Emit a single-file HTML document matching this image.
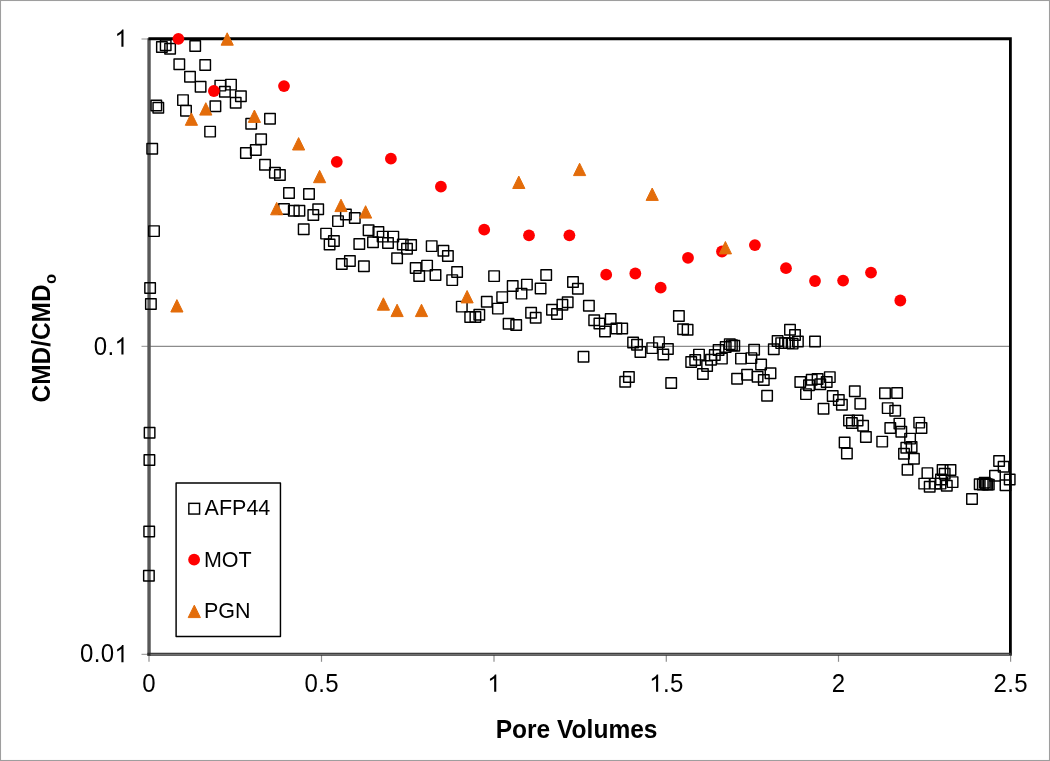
<!DOCTYPE html>
<html><head><meta charset="utf-8"><title>chart</title>
<style>
html,body{margin:0;padding:0;background:#fff;}
body{width:1050px;height:761px;overflow:hidden;}
svg{display:block;}
text{font-family:"Liberation Sans",sans-serif;fill:#000;}
svg{will-change:transform;}
</style></head><body>
<svg width="1050" height="761" viewBox="0 0 1050 761">
<rect x="0" y="0" width="1050" height="761" fill="#fff"/>
<rect x="0.5" y="0.5" width="1049" height="760" fill="none" stroke="#9e9e9e" stroke-width="1.1"/>

<line x1="149" y1="346.3" x2="1010" y2="346.3" stroke="#8c8c8c" stroke-width="1.2"/>
<line x1="141.5" y1="39" x2="148" y2="39" stroke="#8f8f8f" stroke-width="1"/>
<line x1="141.5" y1="346.3" x2="148" y2="346.3" stroke="#8f8f8f" stroke-width="1"/>
<line x1="141.5" y1="654.3" x2="148" y2="654.3" stroke="#8f8f8f" stroke-width="1"/>
<line x1="149" y1="655" x2="149" y2="661.8" stroke="#8f8f8f" stroke-width="1.2"/>
<line x1="321.5" y1="655" x2="321.5" y2="661.8" stroke="#8f8f8f" stroke-width="1.2"/>
<line x1="494" y1="655" x2="494" y2="661.8" stroke="#8f8f8f" stroke-width="1.2"/>
<line x1="666.3" y1="655" x2="666.3" y2="661.8" stroke="#8f8f8f" stroke-width="1.2"/>
<line x1="838.5" y1="655" x2="838.5" y2="661.8" stroke="#8f8f8f" stroke-width="1.2"/>
<line x1="1010.6" y1="655" x2="1010.6" y2="661.8" stroke="#8f8f8f" stroke-width="1.2"/>
<line x1="149.05" y1="38.2" x2="149.05" y2="655.7" stroke="#585858" stroke-width="3.4"/>
<path d="M148.4 38.75H1010.4V654.2" fill="none" stroke="#000" stroke-width="2.8"/>
<line x1="147.4" y1="654.35" x2="1011.9" y2="654.35" stroke="#2e2e2e" stroke-width="3"/>
<line x1="150.5" y1="654.3" x2="1009" y2="654.3" stroke="#858585" stroke-width="0.95"/>
<g fill="none" stroke="#000" stroke-width="1.45" stroke-linejoin="round">
<rect x="156.65" y="41.75" width="10.5" height="10.5"/>
<rect x="160.45" y="40.05" width="10.5" height="10.5"/>
<rect x="164.85" y="43.45" width="10.5" height="10.5"/>
<rect x="189.95" y="40.75" width="10.5" height="10.5"/>
<rect x="174.05" y="59.05" width="10.5" height="10.5"/>
<rect x="199.95" y="59.75" width="10.5" height="10.5"/>
<rect x="184.75" y="71.55" width="10.5" height="10.5"/>
<rect x="195.35" y="81.55" width="10.5" height="10.5"/>
<rect x="215.05" y="80.35" width="10.5" height="10.5"/>
<rect x="225.75" y="79.35" width="10.5" height="10.5"/>
<rect x="219.65" y="86.45" width="10.5" height="10.5"/>
<rect x="235.65" y="91.05" width="10.5" height="10.5"/>
<rect x="230.45" y="97.55" width="10.5" height="10.5"/>
<rect x="177.75" y="94.85" width="10.5" height="10.5"/>
<rect x="180.75" y="105.55" width="10.5" height="10.5"/>
<rect x="210.15" y="100.95" width="10.5" height="10.5"/>
<rect x="151.05" y="100.15" width="10.5" height="10.5"/>
<rect x="153.05" y="102.45" width="10.5" height="10.5"/>
<rect x="204.85" y="126.35" width="10.5" height="10.5"/>
<rect x="245.95" y="118.45" width="10.5" height="10.5"/>
<rect x="264.75" y="113.45" width="10.5" height="10.5"/>
<rect x="255.85" y="133.95" width="10.5" height="10.5"/>
<rect x="146.95" y="143.45" width="10.5" height="10.5"/>
<rect x="250.55" y="144.65" width="10.5" height="10.5"/>
<rect x="240.65" y="147.75" width="10.5" height="10.5"/>
<rect x="259.75" y="159.55" width="10.5" height="10.5"/>
<rect x="269.65" y="167.55" width="10.5" height="10.5"/>
<rect x="274.65" y="169.75" width="10.5" height="10.5"/>
<rect x="283.75" y="187.75" width="10.5" height="10.5"/>
<rect x="278.75" y="203.75" width="10.5" height="10.5"/>
<rect x="288.55" y="205.55" width="10.5" height="10.5"/>
<rect x="294.15" y="205.55" width="10.5" height="10.5"/>
<rect x="148.75" y="225.85" width="10.5" height="10.5"/>
<rect x="303.75" y="188.75" width="10.5" height="10.5"/>
<rect x="312.95" y="203.95" width="10.5" height="10.5"/>
<rect x="308.05" y="209.75" width="10.5" height="10.5"/>
<rect x="298.45" y="224.05" width="10.5" height="10.5"/>
<rect x="320.85" y="228.35" width="10.5" height="10.5"/>
<rect x="328.65" y="235.65" width="10.5" height="10.5"/>
<rect x="324.35" y="239.25" width="10.5" height="10.5"/>
<rect x="332.75" y="215.85" width="10.5" height="10.5"/>
<rect x="340.65" y="209.25" width="10.5" height="10.5"/>
<rect x="349.55" y="212.75" width="10.5" height="10.5"/>
<rect x="354.05" y="238.65" width="10.5" height="10.5"/>
<rect x="363.35" y="224.95" width="10.5" height="10.5"/>
<rect x="367.75" y="237.05" width="10.5" height="10.5"/>
<rect x="373.15" y="226.75" width="10.5" height="10.5"/>
<rect x="377.35" y="231.35" width="10.5" height="10.5"/>
<rect x="382.75" y="237.75" width="10.5" height="10.5"/>
<rect x="388.05" y="231.35" width="10.5" height="10.5"/>
<rect x="397.55" y="239.25" width="10.5" height="10.5"/>
<rect x="401.75" y="243.55" width="10.5" height="10.5"/>
<rect x="405.85" y="239.75" width="10.5" height="10.5"/>
<rect x="391.85" y="253.05" width="10.5" height="10.5"/>
<rect x="426.45" y="240.85" width="10.5" height="10.5"/>
<rect x="438.15" y="245.45" width="10.5" height="10.5"/>
<rect x="442.65" y="250.75" width="10.5" height="10.5"/>
<rect x="336.55" y="258.75" width="10.5" height="10.5"/>
<rect x="344.65" y="255.75" width="10.5" height="10.5"/>
<rect x="358.65" y="261.05" width="10.5" height="10.5"/>
<rect x="410.45" y="262.65" width="10.5" height="10.5"/>
<rect x="421.85" y="260.35" width="10.5" height="10.5"/>
<rect x="413.95" y="270.65" width="10.5" height="10.5"/>
<rect x="430.25" y="269.75" width="10.5" height="10.5"/>
<rect x="144.85" y="282.75" width="10.5" height="10.5"/>
<rect x="145.65" y="298.75" width="10.5" height="10.5"/>
<rect x="144.35" y="427.55" width="10.5" height="10.5"/>
<rect x="144.15" y="454.75" width="10.5" height="10.5"/>
<rect x="143.95" y="526.15" width="10.5" height="10.5"/>
<rect x="143.65" y="570.45" width="10.5" height="10.5"/>
<rect x="451.85" y="266.75" width="10.5" height="10.5"/>
<rect x="446.95" y="274.85" width="10.5" height="10.5"/>
<rect x="488.85" y="270.85" width="10.5" height="10.5"/>
<rect x="456.55" y="301.35" width="10.5" height="10.5"/>
<rect x="464.95" y="311.75" width="10.5" height="10.5"/>
<rect x="470.15" y="311.75" width="10.5" height="10.5"/>
<rect x="474.05" y="309.45" width="10.5" height="10.5"/>
<rect x="481.55" y="296.45" width="10.5" height="10.5"/>
<rect x="492.65" y="303.35" width="10.5" height="10.5"/>
<rect x="496.95" y="291.85" width="10.5" height="10.5"/>
<rect x="507.45" y="280.75" width="10.5" height="10.5"/>
<rect x="516.25" y="288.35" width="10.5" height="10.5"/>
<rect x="521.65" y="279.35" width="10.5" height="10.5"/>
<rect x="503.35" y="318.55" width="10.5" height="10.5"/>
<rect x="510.95" y="319.75" width="10.5" height="10.5"/>
<rect x="525.85" y="307.55" width="10.5" height="10.5"/>
<rect x="530.45" y="312.45" width="10.5" height="10.5"/>
<rect x="535.35" y="283.25" width="10.5" height="10.5"/>
<rect x="540.95" y="269.75" width="10.5" height="10.5"/>
<rect x="546.75" y="304.55" width="10.5" height="10.5"/>
<rect x="551.75" y="308.65" width="10.5" height="10.5"/>
<rect x="557.15" y="299.55" width="10.5" height="10.5"/>
<rect x="562.45" y="296.95" width="10.5" height="10.5"/>
<rect x="567.75" y="276.65" width="10.5" height="10.5"/>
<rect x="572.65" y="283.55" width="10.5" height="10.5"/>
<rect x="583.65" y="300.55" width="10.5" height="10.5"/>
<rect x="588.95" y="314.95" width="10.5" height="10.5"/>
<rect x="594.15" y="318.25" width="10.5" height="10.5"/>
<rect x="578.25" y="351.55" width="10.5" height="10.5"/>
<rect x="605.45" y="313.65" width="10.5" height="10.5"/>
<rect x="599.75" y="326.15" width="10.5" height="10.5"/>
<rect x="611.15" y="323.15" width="10.5" height="10.5"/>
<rect x="616.95" y="323.15" width="10.5" height="10.5"/>
<rect x="627.85" y="337.15" width="10.5" height="10.5"/>
<rect x="631.75" y="339.45" width="10.5" height="10.5"/>
<rect x="635.15" y="346.65" width="10.5" height="10.5"/>
<rect x="646.95" y="342.85" width="10.5" height="10.5"/>
<rect x="653.75" y="336.85" width="10.5" height="10.5"/>
<rect x="662.65" y="343.75" width="10.5" height="10.5"/>
<rect x="658.05" y="349.25" width="10.5" height="10.5"/>
<rect x="673.65" y="310.65" width="10.5" height="10.5"/>
<rect x="677.85" y="324.05" width="10.5" height="10.5"/>
<rect x="682.35" y="324.55" width="10.5" height="10.5"/>
<rect x="623.65" y="371.65" width="10.5" height="10.5"/>
<rect x="619.95" y="376.55" width="10.5" height="10.5"/>
<rect x="665.95" y="377.75" width="10.5" height="10.5"/>
<rect x="685.95" y="356.65" width="10.5" height="10.5"/>
<rect x="689.95" y="354.75" width="10.5" height="10.5"/>
<rect x="693.75" y="349.35" width="10.5" height="10.5"/>
<rect x="701.85" y="360.75" width="10.5" height="10.5"/>
<rect x="697.65" y="368.75" width="10.5" height="10.5"/>
<rect x="705.75" y="354.45" width="10.5" height="10.5"/>
<rect x="709.55" y="349.75" width="10.5" height="10.5"/>
<rect x="713.35" y="344.75" width="10.5" height="10.5"/>
<rect x="716.65" y="353.35" width="10.5" height="10.5"/>
<rect x="720.45" y="341.75" width="10.5" height="10.5"/>
<rect x="724.55" y="338.85" width="10.5" height="10.5"/>
<rect x="726.65" y="339.95" width="10.5" height="10.5"/>
<rect x="729.05" y="340.45" width="10.5" height="10.5"/>
<rect x="735.75" y="353.35" width="10.5" height="10.5"/>
<rect x="746.15" y="352.85" width="10.5" height="10.5"/>
<rect x="748.85" y="344.55" width="10.5" height="10.5"/>
<rect x="755.85" y="359.25" width="10.5" height="10.5"/>
<rect x="741.85" y="369.55" width="10.5" height="10.5"/>
<rect x="731.85" y="373.55" width="10.5" height="10.5"/>
<rect x="752.35" y="371.45" width="10.5" height="10.5"/>
<rect x="758.55" y="374.75" width="10.5" height="10.5"/>
<rect x="765.25" y="368.05" width="10.5" height="10.5"/>
<rect x="761.85" y="390.45" width="10.5" height="10.5"/>
<rect x="768.55" y="344.05" width="10.5" height="10.5"/>
<rect x="784.75" y="324.55" width="10.5" height="10.5"/>
<rect x="789.75" y="329.75" width="10.5" height="10.5"/>
<rect x="772.35" y="335.65" width="10.5" height="10.5"/>
<rect x="775.95" y="337.85" width="10.5" height="10.5"/>
<rect x="779.75" y="337.85" width="10.5" height="10.5"/>
<rect x="783.55" y="337.85" width="10.5" height="10.5"/>
<rect x="787.35" y="338.35" width="10.5" height="10.5"/>
<rect x="792.65" y="336.25" width="10.5" height="10.5"/>
<rect x="809.75" y="336.25" width="10.5" height="10.5"/>
<rect x="795.05" y="376.65" width="10.5" height="10.5"/>
<rect x="803.75" y="379.95" width="10.5" height="10.5"/>
<rect x="806.45" y="374.55" width="10.5" height="10.5"/>
<rect x="812.35" y="373.75" width="10.5" height="10.5"/>
<rect x="815.05" y="379.05" width="10.5" height="10.5"/>
<rect x="821.45" y="376.65" width="10.5" height="10.5"/>
<rect x="824.55" y="371.85" width="10.5" height="10.5"/>
<rect x="800.75" y="388.85" width="10.5" height="10.5"/>
<rect x="827.45" y="390.75" width="10.5" height="10.5"/>
<rect x="833.55" y="394.75" width="10.5" height="10.5"/>
<rect x="836.65" y="399.55" width="10.5" height="10.5"/>
<rect x="818.25" y="403.55" width="10.5" height="10.5"/>
<rect x="849.55" y="385.95" width="10.5" height="10.5"/>
<rect x="855.05" y="398.55" width="10.5" height="10.5"/>
<rect x="843.75" y="415.25" width="10.5" height="10.5"/>
<rect x="846.65" y="417.65" width="10.5" height="10.5"/>
<rect x="852.35" y="415.25" width="10.5" height="10.5"/>
<rect x="857.85" y="420.45" width="10.5" height="10.5"/>
<rect x="860.65" y="431.75" width="10.5" height="10.5"/>
<rect x="839.35" y="437.15" width="10.5" height="10.5"/>
<rect x="841.65" y="448.25" width="10.5" height="10.5"/>
<rect x="879.75" y="387.95" width="10.5" height="10.5"/>
<rect x="891.85" y="387.65" width="10.5" height="10.5"/>
<rect x="882.45" y="402.85" width="10.5" height="10.5"/>
<rect x="889.95" y="405.55" width="10.5" height="10.5"/>
<rect x="885.05" y="422.65" width="10.5" height="10.5"/>
<rect x="894.15" y="418.35" width="10.5" height="10.5"/>
<rect x="896.05" y="426.45" width="10.5" height="10.5"/>
<rect x="876.95" y="436.35" width="10.5" height="10.5"/>
<rect x="913.95" y="417.35" width="10.5" height="10.5"/>
<rect x="916.25" y="422.65" width="10.5" height="10.5"/>
<rect x="904.85" y="433.35" width="10.5" height="10.5"/>
<rect x="901.05" y="442.45" width="10.5" height="10.5"/>
<rect x="906.35" y="441.75" width="10.5" height="10.5"/>
<rect x="898.75" y="448.55" width="10.5" height="10.5"/>
<rect x="908.65" y="453.45" width="10.5" height="10.5"/>
<rect x="902.25" y="464.55" width="10.5" height="10.5"/>
<rect x="922.15" y="467.85" width="10.5" height="10.5"/>
<rect x="937.35" y="464.75" width="10.5" height="10.5"/>
<rect x="945.25" y="464.75" width="10.5" height="10.5"/>
<rect x="939.45" y="468.45" width="10.5" height="10.5"/>
<rect x="918.95" y="478.35" width="10.5" height="10.5"/>
<rect x="924.45" y="481.55" width="10.5" height="10.5"/>
<rect x="929.95" y="478.35" width="10.5" height="10.5"/>
<rect x="935.75" y="474.15" width="10.5" height="10.5"/>
<rect x="935.25" y="478.35" width="10.5" height="10.5"/>
<rect x="941.55" y="480.55" width="10.5" height="10.5"/>
<rect x="947.35" y="476.85" width="10.5" height="10.5"/>
<rect x="966.75" y="493.65" width="10.5" height="10.5"/>
<rect x="974.45" y="478.95" width="10.5" height="10.5"/>
<rect x="977.55" y="479.15" width="10.5" height="10.5"/>
<rect x="979.45" y="477.35" width="10.5" height="10.5"/>
<rect x="980.65" y="478.75" width="10.5" height="10.5"/>
<rect x="982.05" y="479.25" width="10.5" height="10.5"/>
<rect x="983.55" y="479.35" width="10.5" height="10.5"/>
<rect x="989.75" y="470.55" width="10.5" height="10.5"/>
<rect x="993.85" y="455.75" width="10.5" height="10.5"/>
<rect x="998.35" y="461.55" width="10.5" height="10.5"/>
<rect x="1000.25" y="479.95" width="10.5" height="10.5"/>
<rect x="1004.45" y="474.15" width="10.5" height="10.5"/>
</g>
<g fill="#ff0000">
<circle cx="178.4" cy="38.8" r="5.9"/>
<circle cx="213.9" cy="91" r="5.9"/>
<circle cx="284" cy="86.1" r="5.9"/>
<circle cx="336.8" cy="161.8" r="5.9"/>
<circle cx="390.9" cy="158.7" r="5.9"/>
<circle cx="440.9" cy="186.7" r="5.9"/>
<circle cx="484.2" cy="229.7" r="5.9"/>
<circle cx="529" cy="235.3" r="5.9"/>
<circle cx="569.4" cy="235.3" r="5.9"/>
<circle cx="606.2" cy="274.7" r="5.9"/>
<circle cx="635.3" cy="273.5" r="5.9"/>
<circle cx="660.7" cy="287.7" r="5.9"/>
<circle cx="688" cy="257.9" r="5.9"/>
<circle cx="722" cy="251.5" r="5.9"/>
<circle cx="754.9" cy="245.1" r="5.9"/>
<circle cx="786" cy="268.2" r="5.9"/>
<circle cx="815" cy="281" r="5.9"/>
<circle cx="843.1" cy="280.6" r="5.9"/>
<circle cx="871" cy="272.6" r="5.9"/>
<circle cx="900.3" cy="300.5" r="5.9"/>
</g>
<g fill="#e36c0a" stroke="#e36c0a" stroke-width="1" stroke-linejoin="round">
<path d="M227.20 32.80L233.30 45.20L221.10 45.20Z"/>
<path d="M205.80 102.70L211.90 115.10L199.70 115.10Z"/>
<path d="M191.40 112.90L197.50 125.30L185.30 125.30Z"/>
<path d="M254.40 110.00L260.50 122.40L248.30 122.40Z"/>
<path d="M298.60 137.60L304.70 150.00L292.50 150.00Z"/>
<path d="M319.60 170.30L325.70 182.70L313.50 182.70Z"/>
<path d="M276.70 202.40L282.80 214.80L270.60 214.80Z"/>
<path d="M341.00 199.20L347.10 211.60L334.90 211.60Z"/>
<path d="M365.60 205.70L371.70 218.10L359.50 218.10Z"/>
<path d="M176.90 299.60L183.00 312.00L170.80 312.00Z"/>
<path d="M383.40 297.80L389.50 310.20L377.30 310.20Z"/>
<path d="M397.10 304.20L403.20 316.60L391.00 316.60Z"/>
<path d="M421.50 304.20L427.60 316.60L415.40 316.60Z"/>
<path d="M467.10 290.50L473.20 302.90L461.00 302.90Z"/>
<path d="M518.80 176.10L524.90 188.50L512.70 188.50Z"/>
<path d="M579.60 163.20L585.70 175.60L573.50 175.60Z"/>
<path d="M652.20 188.00L658.30 200.40L646.10 200.40Z"/>
<path d="M725.40 241.50L731.50 253.90L719.30 253.90Z"/>
</g>
<rect x="176.1" y="483.05" width="104.35" height="153.5" fill="#fff" stroke="#000" stroke-width="1.45" stroke-linejoin="round"/>
<g fill="none" stroke="#000" stroke-width="1.45"><rect x="188.85" y="503.35" width="10.7" height="10.7"/></g>
<circle cx="194.1" cy="559.7" r="5.9" fill="#ff0000"/>
<g fill="#e36c0a" stroke="#e36c0a" stroke-width="1" stroke-linejoin="round"><path d="M194.30 605.20L200.40 617.60L188.20 617.60Z"/></g>
<g font-size="21.5px">
<text transform="translate(204.6,515.4) scale(1,1.045)">AFP44</text>
<text transform="translate(203.9,566.7) scale(1,1.045)">MOT</text>
<text transform="translate(203.9,617.8) scale(1,1.045)">PGN</text>
</g>
<g fill="#000">
<path transform="translate(114.56,46.8) scale(0.011719,-0.011719)" d="M763 0H583V1147Q518 1085 412.5 1023Q307 961 223 930V1104Q374 1175 487 1276Q600 1377 647 1472H763Z"/>
<text transform="translate(93.74,354.5) scale(1,1.042)" font-size="24px">0</text><text transform="translate(107.48,354.5) scale(1,1.042)" font-size="24px">.</text><path transform="translate(114.56,354.5) scale(0.011719,-0.011719)" d="M763 0H583V1147Q518 1085 412.5 1023Q307 961 223 930V1104Q374 1175 487 1276Q600 1377 647 1472H763Z"/>
<text transform="translate(80.00,662.3) scale(1,1.042)" font-size="24px">0</text><text transform="translate(93.74,662.3) scale(1,1.042)" font-size="24px">.</text><text transform="translate(100.81,662.3) scale(1,1.042)" font-size="24px">0</text><path transform="translate(114.56,662.3) scale(0.011719,-0.011719)" d="M763 0H583V1147Q518 1085 412.5 1023Q307 961 223 930V1104Q374 1175 487 1276Q600 1377 647 1472H763Z"/>
<text transform="translate(142.33,691.7) scale(1,1.042)" font-size="24px">0</text>
<text transform="translate(304.42,691.7) scale(1,1.042)" font-size="24px">0</text><text transform="translate(318.16,691.7) scale(1,1.042)" font-size="24px">.</text><text transform="translate(325.24,691.7) scale(1,1.042)" font-size="24px">5</text>
<path transform="translate(487.33,691.7) scale(0.011719,-0.011719)" d="M763 0H583V1147Q518 1085 412.5 1023Q307 961 223 930V1104Q374 1175 487 1276Q600 1377 647 1472H763Z"/>
<path transform="translate(649.22,691.7) scale(0.011719,-0.011719)" d="M763 0H583V1147Q518 1085 412.5 1023Q307 961 223 930V1104Q374 1175 487 1276Q600 1377 647 1472H763Z"/><text transform="translate(662.96,691.7) scale(1,1.042)" font-size="24px">.</text><text transform="translate(670.04,691.7) scale(1,1.042)" font-size="24px">5</text>
<text transform="translate(831.83,691.7) scale(1,1.042)" font-size="24px">2</text>
<text transform="translate(993.42,691.7) scale(1,1.042)" font-size="24px">2</text><text transform="translate(1007.16,691.7) scale(1,1.042)" font-size="24px">.</text><text transform="translate(1014.24,691.7) scale(1,1.042)" font-size="24px">5</text>
</g>
<text transform="translate(576.6,738.1) scale(1,1.035)" font-size="24.55px" font-weight="bold" text-anchor="middle">Pore Volumes</text>
<text transform="translate(50.2,338.1) rotate(-90) scale(1,1.035)" font-size="24.4px" font-weight="bold" text-anchor="middle">CMD/CMD<tspan font-size="16.5px" dy="5.8" dx="0.6">o</tspan></text>
</svg></body></html>
